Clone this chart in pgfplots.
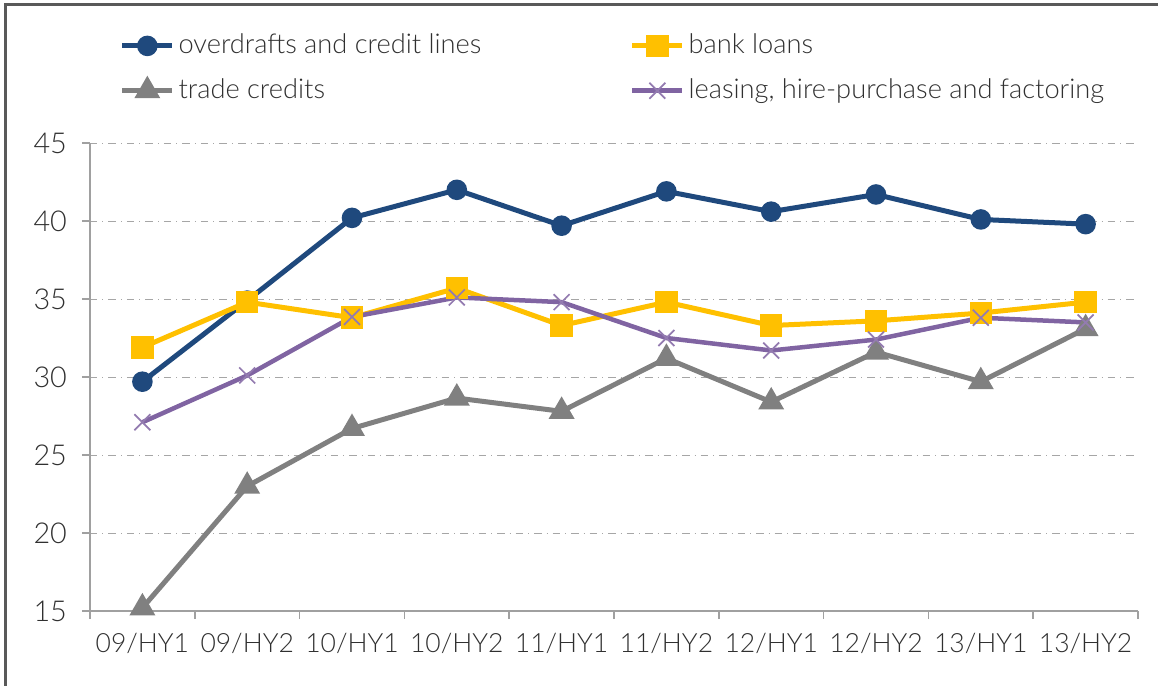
\documentclass[border=0pt]{standalone}
\usepackage{fontspec}
\setmainfont{Lato}[UprightFont=* Light]
\usepackage{pgfplots}
\pgfplotsset{compat=1.18}
\definecolor{cblue}{HTML}{1F497D}
\definecolor{cyellow}{HTML}{FFC000}
\definecolor{cgray}{HTML}{808080}
\definecolor{cpurple}{HTML}{8064A2}
\definecolor{txt}{HTML}{303030}
\definecolor{axgray}{HTML}{A0A0A0}
\begin{document}
\begin{tikzpicture}
\useasboundingbox (0,0) rectangle (463.2pt,274pt);
\draw[color=txt!80,line width=1pt] (2.2pt,-5pt) -- (2.2pt,272.2pt) -- (470pt,272.2pt);
\begin{axis}[
  scale only axis,
  width=419.2pt, height=187.2pt,
  at={(36pt,29.6pt)}, anchor=south west,
  xmin=-0.5, xmax=9.5, ymin=15, ymax=45,
  axis lines=left,
  axis line style={-, axgray, line width=0.6pt},
  xtick={0,...,9},
  xticklabels={09/HY1,09/HY2,10/HY1,10/HY2,11/HY1,11/HY2,12/HY1,12/HY2,13/HY1,13/HY2},
  major x tick style={draw=none},
  minor xtick={-0.5,0.5,...,9.5},
  minor x tick style={axgray, line width=0.6pt},
  minor tick length=3.2pt,
  ytick={15,20,...,45},
  major tick length=3.2pt,
  tick align=outside,
  y tick style={axgray, line width=0.6pt},
  ymajorgrids,
  grid style={dash dot, color=gray!70, line width=0.4pt},
  ticklabel style={font=\fontsize{11.5}{13}\selectfont, text=txt},
  xticklabel style={yshift=-2pt, font=\fontsize{10.6}{12}\selectfont},
  yticklabel style={xshift=-2.5pt},
  /pgf/number format/assume math mode=true,
  legend columns=2,
  legend style={draw=none, fill=none, at={(0.028,1)}, anchor=south west, yshift=14pt,
    font=\fontsize{10.9}{13}\selectfont, text=txt, row sep=4.5pt,
    /tikz/every even column/.append style={column sep=0pt},
    nodes={inner xsep=1.5pt},
    inner sep=0pt},
  legend cell align=left,
  legend image code/.code={
    \draw[#1,mark repeat=2,mark phase=2] plot coordinates {(0pt,0pt) (10pt,0pt) (20pt,0pt)};
  },
]
\addplot[cblue, line width=2pt, mark=*, mark size=3.1pt, mark options={solid}] coordinates {
(0,29.7) (1,34.9) (2,40.2) (3,42.0) (4,39.7) (5,41.9) (6,40.6) (7,41.7) (8,40.1) (9,39.8)};
\addlegendentry{\makebox[179pt][l]{overdrafts and credit lines}}
\addplot[cyellow, line width=2pt, mark=square*, mark size=3.5pt] coordinates {
(0,31.9) (1,34.8) (2,33.8) (3,35.7) (4,33.3) (5,34.8) (6,33.3) (7,33.6) (8,34.1) (9,34.8)};
\addlegendentry{bank loans}
\addplot[cgray, line width=2pt, mark=triangle*, mark size=4pt] coordinates {
(0,15.2) (1,23.0) (2,26.7) (3,28.65) (4,27.8) (5,31.2) (6,28.4) (7,31.6) (8,29.7) (9,33.1)};
\addlegendentry{\makebox[179pt][l]{trade credits}}
\addplot[cpurple, line width=1.8pt, mark=x, mark size=4.5pt, mark options={line width=0.7pt, color=cpurple!85}] coordinates {
(0,27.1) (1,30.1) (2,33.85) (3,35.1) (4,34.8) (5,32.5) (6,31.7) (7,32.4) (8,33.8) (9,33.5)};
\addlegendentry{leasing, hire-purchase and factoring}
\end{axis}
\end{tikzpicture}
\end{document}
